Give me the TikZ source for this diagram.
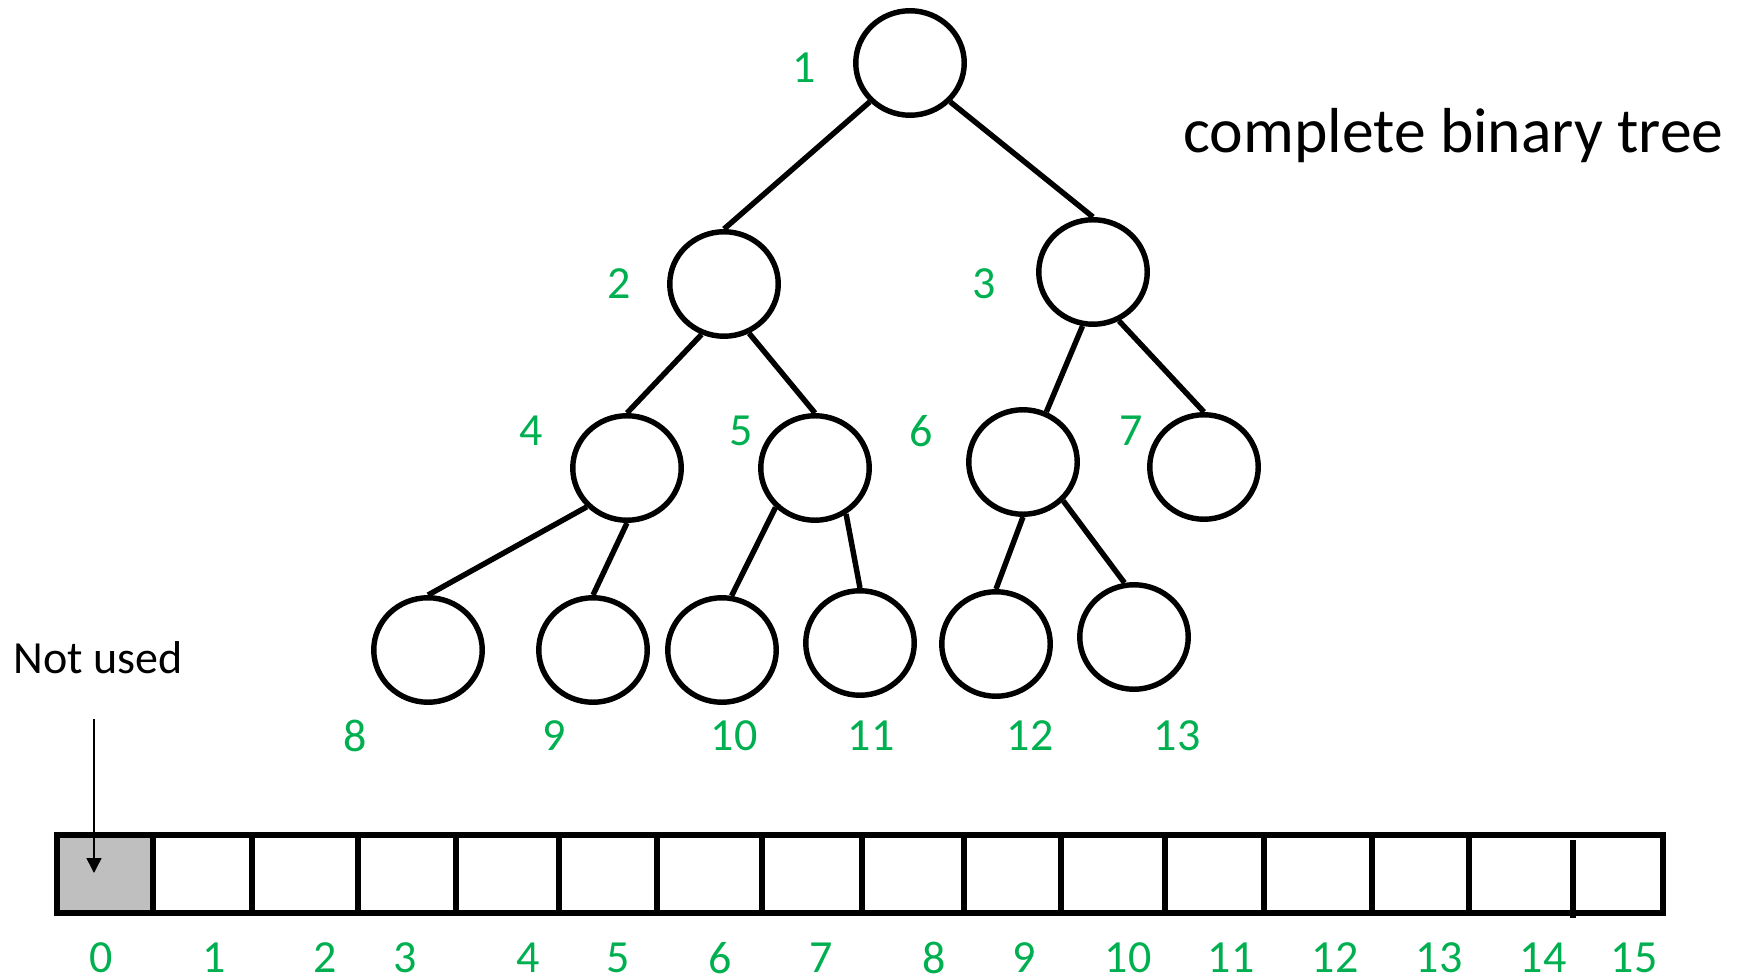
\documentclass[tikz,border=0pt]{standalone}
\usepackage{fontspec}
\setmainfont{Carlito}
\usetikzlibrary{arrows.meta,shapes.geometric}
\definecolor{idxgreen}{HTML}{00B050}
\definecolor{unused}{HTML}{BFBFBF}
\tikzset{
  treenode/.style={ellipse,draw=black,line width=3.1pt,minimum width=2.17cm,minimum height=2.09cm,inner sep=0pt},
  edge/.style={line width=3.1pt},
  idx/.style={text=idxgreen,inner sep=0pt,font=\fontsize{26.2pt}{30pt}\selectfont},
  arr/.style={line width=3.3pt},
  lbl/.style={inner sep=0pt,font=\fontsize{26.2pt}{30pt}\selectfont},
  title/.style={inner sep=0pt,font=\fontsize{36.2pt}{42pt}\selectfont}
}
\begin{document}
\begin{tikzpicture}[x=0.02cm,y=-0.02cm]
\useasboundingbox (0,0) rectangle (1737,979);
% tree nodes
\node[treenode] (n1) at (910,63) {};
\node[treenode] (n2) at (724,284) {};
\node[treenode] (n3) at (1093,272) {};
\node[treenode] (n4) at (627,468) {};
\node[treenode] (n5) at (815,468) {};
\node[treenode] (n6) at (1023,462) {};
\node[treenode] (n7) at (1204,467) {};
\node[treenode] (n8) at (428,650) {};
\node[treenode] (n9) at (593,650) {};
\node[treenode] (n10) at (722,650) {};
\node[treenode] (n11) at (860,643) {};
\node[treenode] (n12) at (996,644) {};
\node[treenode] (n13) at (1134,637) {};
% edges
\draw[edge] (n1.224) -- (n2.north);
\draw[edge] (n1.316) -- (n3.north);
\draw[edge] (n2.246) -- (n4.north);
\draw[edge] (n2.297) -- (n5.north);
\draw[edge] (n3.259) -- (n6.65);
\draw[edge] (n3.298) -- (n7.north);
\draw[edge] (n4.224) -- (n8.north);
\draw[edge] (n4.south) -- (n9.north);
\draw[edge] (n5.225) -- (n10.80);
\draw[edge] (n5.304) -- (n11.north);
\draw[edge] (n6.south) -- (n12.north);
\draw[edge] (n6.316) -- (n13.100);
% tree labels
\node[idx] (t1) at (804,68) {1};
\node[idx] (t2) at (619,284) {2};
\node[idx] (t3) at (984,284) {3};
\node[idx] (t4) at (531,431) {4};
\node[idx] (t5) at (741,431) {5};
\node[idx] (t6) at (921,431) {6};
\node[idx] (t7) at (1131,431) {7};
\node[idx] (t8) at (355,736) {8};
\node[idx] (t9) at (554,736) {9};
\node[idx] (t10) at (734,736) {10};
\node[idx] (t11) at (871,736) {11};
\node[idx] (t12) at (1030,736) {12};
\node[idx] (t13) at (1177,736) {13};
% title
\node[title,anchor=base west] (title) at (1183,153) {complete binary tree};
% array
\fill[unused] (57,835) rectangle (153,913);
\draw[arr] (57,835) rectangle (1663,913);
\foreach \x in {153,252,358,456,559,657,762,862,964,1061,1165,1264,1372,1469}
  \draw[arr] (\x,835) -- (\x,913);
\draw[arr] (1573,840) -- (1573,918);
% index labels
\foreach \x/\t in {101/0,214/1,325/2,405/3,528/4,618/5,720/6,821/7,934/8,1024/9,1128/10,1231/11,1335/12,1439/13,1543/14,1634/15}
  \node[idx] (i\t) at (\x,958) {\t};
% not used
\node[lbl,anchor=base west] (nu) at (13,673) {Not used};
\coordinate (a0) at (94,719);
\coordinate (a1) at (94,873);
\draw[line width=0.85pt,-{Triangle[width=15*0.02cm,length=15*0.02cm]}] (a0) -- (a1);
\end{tikzpicture}
\end{document}
